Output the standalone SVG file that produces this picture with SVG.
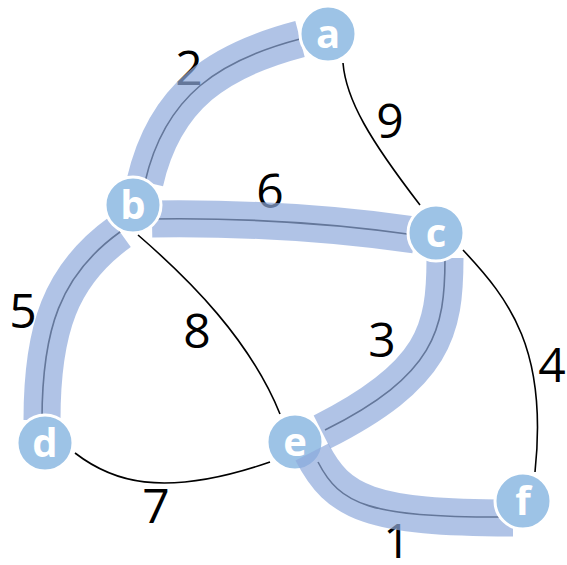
<svg xmlns="http://www.w3.org/2000/svg" width="567" height="565" viewBox="0 0 567 565">
<style>
.edge{fill:none;stroke:#000;stroke-width:1.6}
.band{fill:none;stroke:#8FAADC;stroke-opacity:0.7;stroke-width:37;stroke-linecap:butt}
.node circle{fill:#9DC3E6;stroke:#fff;stroke-width:3}
.node text{fill:#fff;font-family:"Open Sans","Noto Sans",sans-serif;font-weight:bold;font-size:40px;text-anchor:middle}
.lbl{fill:#000;font-family:"Open Sans","Noto Sans",sans-serif;font-size:48px;text-anchor:middle}
</style>
<rect width="567" height="565" fill="#fff"/>
<g id="connectors">
<path id="e-ab" class="edge" d="M300,39 C220,60 165,95 145,182"/>
<path id="e-ac" class="edge" d="M343,63 C346,100 370,140 420,205"/>
<path id="e-bc" class="edge" d="M152,219 Q290,217 415,235"/>
<path id="e-bd" class="edge" d="M120,232 C60,275 42,330 42,420"/>
<path id="e-be" class="edge" d="M138,235 C190,280 250,340 280,414"/>
<path id="e-ce" class="edge" d="M445,258 C445,330 435,375 325,430"/>
<path id="e-cf" class="edge" d="M463,250 C510,300 548,350 535,472"/>
<path id="e-de" class="edge" d="M75,453 C110,480 160,500 270,462"/>
<path id="e-ef" class="edge" d="M318,462 C340,505 370,517 500,517"/>
</g>
<g id="labels">
<text class="lbl" x="189" y="85">2</text>
<text class="lbl" x="390" y="138">9</text>
<text class="lbl" x="270" y="208">6</text>
<text class="lbl" x="23" y="328">5</text>
<text class="lbl" x="197" y="348">8</text>
<text class="lbl" x="382" y="357">3</text>
<text class="lbl" x="552" y="382">4</text>
<text class="lbl" x="156" y="523">7</text>
<text class="lbl" x="397" y="558">1</text>
</g>
<g id="node-e" class="node"><circle cx="295" cy="442" r="28"/><text x="295" y="456">e</text></g>
<g id="highlights">
<path class="band" d="M300,39 C220,60 165,95 145,182"/>
<path class="band" d="M152,219 Q290,217 415,235"/>
<path class="band" d="M120,232 C60,275 42,330 42,420"/>
<path class="band" d="M445,258 C445,330 435,375 322,432"/>
<path class="band" d="M312,452 C338,503 370,518 513,518"/>
</g>
<g id="node-a" class="node"><circle cx="328" cy="34" r="28"/><text x="328" y="48">a</text></g>
<g id="node-b" class="node"><circle cx="133" cy="205" r="28"/><text x="133" y="219">b</text></g>
<g id="node-c" class="node"><circle cx="436" cy="233" r="28"/><text x="436" y="247">c</text></g>
<g id="node-d" class="node"><circle cx="45" cy="443" r="28"/><text x="45" y="457">d</text></g>
<g id="node-f" class="node"><circle cx="523" cy="501" r="28"/><text x="523" y="515">f</text></g>
</svg>
